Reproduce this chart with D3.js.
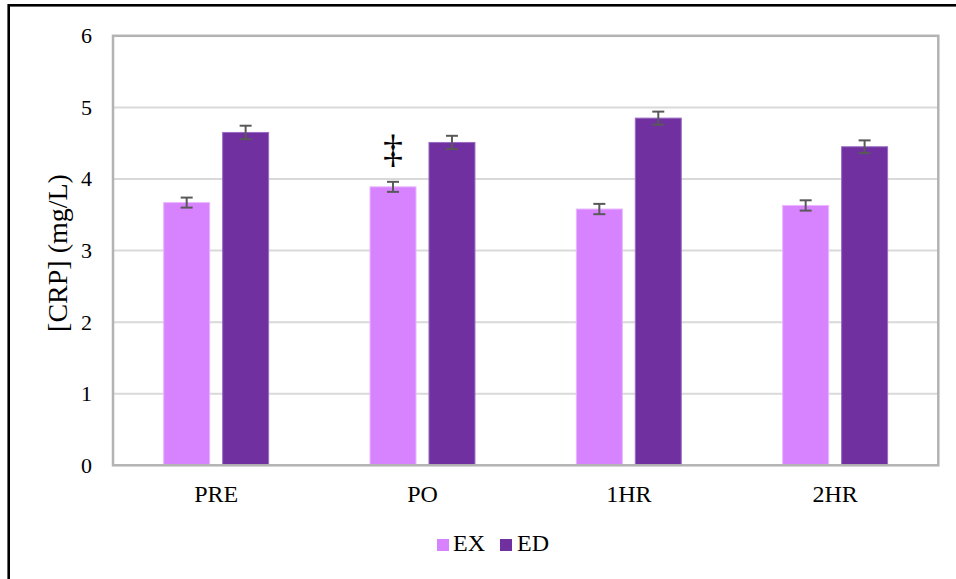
<!DOCTYPE html>
<html>
<head>
<meta charset="utf-8">
<script src="https://cdn.jsdelivr.net/npm/d3@7"></script>
<style>
  html, body { margin: 0; padding: 0; background: #fff; }
  svg { display: block; }
  svg text { font-family: 'Times New Roman', 'Liberation Serif', Times, serif; }
</style>
</head>
<body>
<svg id="chart" width="956" height="579"></svg>
<script>
// Time points and groups
const categories = ["PRE", "PO", "1HR", "2HR"];
const seriesNames = ["EX", "ED"];
// Mean CRP (mg/L) per group
const exValues = [3.67, 3.89, 3.58, 3.63];
const edValues = [4.65, 4.51, 4.85, 4.45];
// Error bar half-lengths
const exErrors = [0.07, 0.07, 0.072, 0.072];
const edErrors = [0.094, 0.093, 0.091, 0.089];
const yTicks = [0, 1, 2, 3, 4, 5, 6];
const seriesColors = ["#D783FF", "#7030A0"];
const seriesEdges = ["#E9B6FF", "#9A6CC4"];

const FONT = "'Times New Roman', 'Liberation Serif', Times, serif";
const svg = d3.select("#chart").attr("font-family", FONT);

// Outer frame
svg.append("rect")
  .attr("x", 8.7).attr("y", 5.3)
  .attr("width", 1000).attr("height", 1000)
  .attr("fill", "none").attr("stroke", "#000").attr("stroke-width", 2.6);

const plot = { left: 113, right: 938.3, top: 35.8, bottom: 465.3 };

const y = d3.scaleLinear().domain([0, 6]).range([plot.bottom, plot.top]);
const x0 = d3.scaleBand().domain(categories).range([plot.left, plot.right]).padding(0);
const x1 = d3.scaleBand().domain(seriesNames).range([0, x0.bandwidth()])
  .paddingInner(0.22).paddingOuter(0.86);

// Gridlines
svg.append("g").selectAll("line")
  .data(yTicks.filter(t => t > 0 && t < 6))
  .join("line")
  .attr("x1", plot.left).attr("x2", plot.right)
  .attr("y1", d => y(d)).attr("y2", d => y(d))
  .attr("stroke", "#d9d9d9").attr("stroke-width", 2);

// Y tick labels
svg.append("g").selectAll("text")
  .data(yTicks)
  .join("text")
  .attr("x", 92).attr("y", d => y(d))
  .attr("dy", "0.34em")
  .attr("text-anchor", "end")
  .attr("font-family", FONT)
  .attr("font-size", 22)
  .attr("fill", "#000")
  .text(d => d);

// Y axis title
svg.append("text")
  .attr("transform", "translate(67,253) rotate(-90)")
  .attr("text-anchor", "middle")
  .attr("font-family", FONT)
  .attr("font-size", 28)
  .attr("fill", "#000")
  .text("[CRP] (mg/L)");

// Bars
const rows = categories.map((c, i) => ({
  cat: c,
  items: [
    { s: "EX", v: exValues[i], e: exErrors[i], k: 0 },
    { s: "ED", v: edValues[i], e: edErrors[i], k: 1 }
  ]
}));

const groups = svg.append("g").selectAll("g")
  .data(rows)
  .join("g")
  .attr("transform", d => `translate(${x0(d.cat)},0)`);

groups.selectAll("rect")
  .data(d => d.items)
  .join("rect")
  .attr("x", d => x1(d.s))
  .attr("y", d => y(d.v))
  .attr("width", x1.bandwidth())
  .attr("height", d => y(0) - y(d.v))
  .attr("fill", d => seriesColors[d.k])
  .attr("stroke", d => seriesEdges[d.k])
  .attr("stroke-width", 1);

// Error bars
const err = groups.selectAll("g.err")
  .data(d => d.items)
  .join("g")
  .attr("class", "err")
  .attr("stroke", "#595959")
  .attr("stroke-width", 2);
err.append("line")
  .attr("x1", d => x1(d.s) + x1.bandwidth() / 2)
  .attr("x2", d => x1(d.s) + x1.bandwidth() / 2)
  .attr("y1", d => y(d.v + d.e))
  .attr("y2", d => y(d.v - d.e));
err.selectAll("line.cap")
  .data(d => [{ d, t: d.v + d.e }, { d, t: d.v - d.e }])
  .join("line")
  .attr("class", "cap")
  .attr("x1", o => x1(o.d.s) + x1.bandwidth() / 2 - 6)
  .attr("x2", o => x1(o.d.s) + x1.bandwidth() / 2 + 6)
  .attr("y1", o => y(o.t))
  .attr("y2", o => y(o.t));

// Significance marker above PO / EX
svg.append("text")
  .attr("x", x0("PO") + x1("EX") + x1.bandwidth() / 2)
  .attr("y", y(exValues[1] + exErrors[1]) - 20)
  .attr("text-anchor", "middle")
  .attr("font-family", FONT)
  .attr("font-size", 40)
  .attr("fill", "#000")
  .text("‡");

// Plot area border
svg.append("rect")
  .attr("x", plot.left).attr("y", plot.top)
  .attr("width", plot.right - plot.left).attr("height", plot.bottom - plot.top)
  .attr("fill", "none").attr("stroke", "#b3b3b3").attr("stroke-width", 2.5);

// Category labels
svg.append("g").selectAll("text")
  .data(categories)
  .join("text")
  .attr("x", d => x0(d) + x0.bandwidth() / 2)
  .attr("y", 502)
  .attr("text-anchor", "middle")
  .attr("font-family", FONT)
  .attr("font-size", 24)
  .attr("fill", "#000")
  .text(d => d);

// Legend
const legendPos = [{ sx: 437, tx: 453 }, { sx: 500, tx: 517 }];
const legend = svg.append("g").selectAll("g")
  .data(seriesNames)
  .join("g");
legend.append("rect")
  .attr("x", (d, i) => legendPos[i].sx).attr("y", 539)
  .attr("width", 12).attr("height", 12)
  .attr("fill", (d, i) => seriesColors[i]);
legend.append("text")
  .attr("x", (d, i) => legendPos[i].tx).attr("y", 551)
  .attr("font-family", FONT)
  .attr("font-size", 24)
  .attr("fill", "#000")
  .text(d => d);
</script>
</body>
</html>
